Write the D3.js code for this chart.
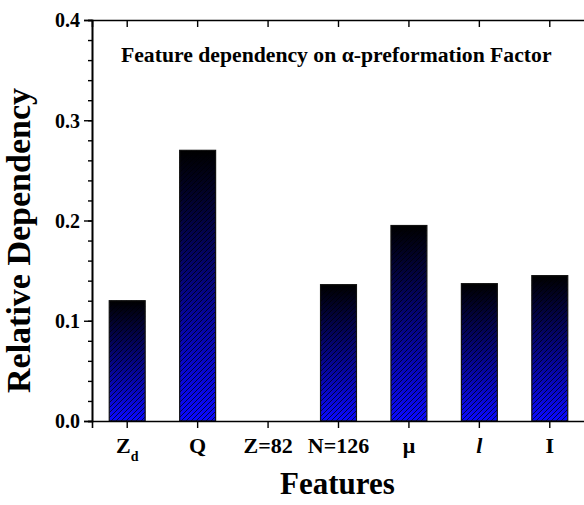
<!DOCTYPE html>
<html>
<head>
<meta charset="utf-8">
<script src="https://cdn.jsdelivr.net/npm/d3@7"></script>
<style>
  body { margin: 0; background: #fff; }
  svg text { font-family: "Liberation Serif", "Times New Roman", serif; font-weight: bold; fill: #000; }
</style>
</head>
<body>
<div id="chart"></div>
<script>
// data
var features = ["Zd", "Q", "Z=82", "N=126", "mu", "l", "I"];
var dependency = [0.120, 0.270, 0.000, 0.136, 0.195, 0.137, 0.145];
var yTicks = [0.0, 0.1, 0.2, 0.3, 0.4];

var W = 584, H = 505;
var margin = {top: 20, right: -1, bottom: 84, left: 92};
var width = W - margin.left - margin.right,
    height = H - margin.top - margin.bottom;

var svg = d3.select("#chart").append("svg")
    .attr("width", W)
    .attr("height", H);

var defs = svg.append("defs");

// black at the top of each bar, blue at the bottom
var grad = defs.append("linearGradient")
    .attr("id", "barGrad")
    .attr("x1", 0).attr("y1", 0).attr("x2", 0).attr("y2", 1);
grad.append("stop").attr("offset", "0%").attr("stop-color", "#000000");
grad.append("stop").attr("offset", "100%").attr("stop-color", "#0a0aff");

// diagonal hatching on top of the gradient
var pat = defs.append("pattern")
    .attr("id", "hatch")
    .attr("patternUnits", "userSpaceOnUse")
    .attr("width", 5).attr("height", 5);
pat.append("path")
    .attr("d", "M-1,1 L1,-1 M0,5 L5,0 M4,6 L6,4")
    .attr("stroke", "#000")
    .attr("stroke-opacity", 0.8)
    .attr("stroke-width", 0.9);

var g = svg.append("g")
    .attr("transform", "translate(" + margin.left + "," + margin.top + ")");

var x = d3.scaleBand()
    .domain(features)
    .range([0, width])
    .paddingInner(0.49)
    .paddingOuter(0.245);

var y = d3.scaleLinear()
    .domain([0, 0.4])
    .range([height, 0]);

var minor = d3.range(0, 0.4001, 0.02);

// bars
var bars = g.selectAll("g.bar")
    .data(features.map(function(f, i) { return {name: f, value: dependency[i]}; }))
    .enter().append("g")
    .attr("class", "bar")
    .filter(function(d) { return d.value > 0; });

bars.append("rect")
    .attr("x", function(d) { return x(d.name); })
    .attr("y", function(d) { return y(d.value); })
    .attr("width", x.bandwidth())
    .attr("height", function(d) { return height - y(d.value); })
    .attr("fill", "url(#barGrad)");

bars.append("rect")
    .attr("x", function(d) { return x(d.name); })
    .attr("y", function(d) { return y(d.value); })
    .attr("width", x.bandwidth())
    .attr("height", function(d) { return height - y(d.value); })
    .attr("fill", "url(#hatch)")
    .attr("stroke", "#111")
    .attr("stroke-width", 1.2);

// axes
function styleAxis(sel) {
    sel.select(".domain").attr("stroke", "#000").attr("stroke-width", 1.6);
    sel.selectAll(".tick line").attr("stroke", "#000").attr("stroke-width", 1.4);
}

// minor ticks first, majors on top
g.append("g")
    .call(d3.axisLeft(y).tickValues(minor).tickSize(4).tickFormat(""))
    .call(styleAxis);
g.append("g")
    .attr("transform", "translate(" + width + ",0)")
    .call(d3.axisLeft(y).tickValues(minor).tickSize(-5).tickFormat(""))
    .call(styleAxis);
g.append("g")
    .attr("transform", "translate(" + width + ",0)")
    .call(d3.axisLeft(y).tickValues(yTicks).tickSize(-7).tickFormat(""))
    .call(styleAxis);

var yAxis = g.append("g")
    .call(d3.axisLeft(y).tickValues(yTicks).tickSize(8).tickPadding(4).tickFormat(d3.format(".1f")))
    .call(styleAxis);
yAxis.selectAll("text")
    .style("font-size", "20px")
    .attr("dy", "0.34em");

g.append("g")
    .call(d3.axisTop(x).tickSize(-7).tickFormat(""))
    .call(styleAxis);

var xAxis = g.append("g")
    .attr("transform", "translate(0," + height + ")")
    .call(d3.axisBottom(x).tickSize(7).tickPadding(9).tickFormat(""))
    .call(styleAxis);

// x tick labels with subscript / greek / italic
xAxis.selectAll(".tick").append("text")
    .attr("y", 32)
    .attr("text-anchor", "middle")
    .style("font-size", "22px")
    .each(function(d) {
        var t = d3.select(this);
        if (d === "Zd") {
            t.append("tspan").text("Z");
            t.append("tspan").text("d").style("font-size", "14px").attr("dy", 8);
        } else if (d === "mu") {
            t.text("\u03bc");
        } else if (d === "l") {
            t.text("l").style("font-style", "italic");
        } else {
            t.text(d);
        }
    });

// titles
g.append("text")
    .attr("x", 29)
    .attr("y", 42)
    .style("font-size", "21.7px")
    .text("Feature dependency on \u03b1-preformation Factor");

svg.append("text")
    .attr("transform", "translate(30," + (margin.top + height / 2 + 20) + ") rotate(-90)")
    .attr("text-anchor", "middle")
    .style("font-size", "34px")
    .text("Relative Dependency");

svg.append("text")
    .attr("x", margin.left + width / 2 - 1)
    .attr("y", 494)
    .attr("text-anchor", "middle")
    .style("font-size", "31px")
    .text("Features");
</script>
</body>
</html>
